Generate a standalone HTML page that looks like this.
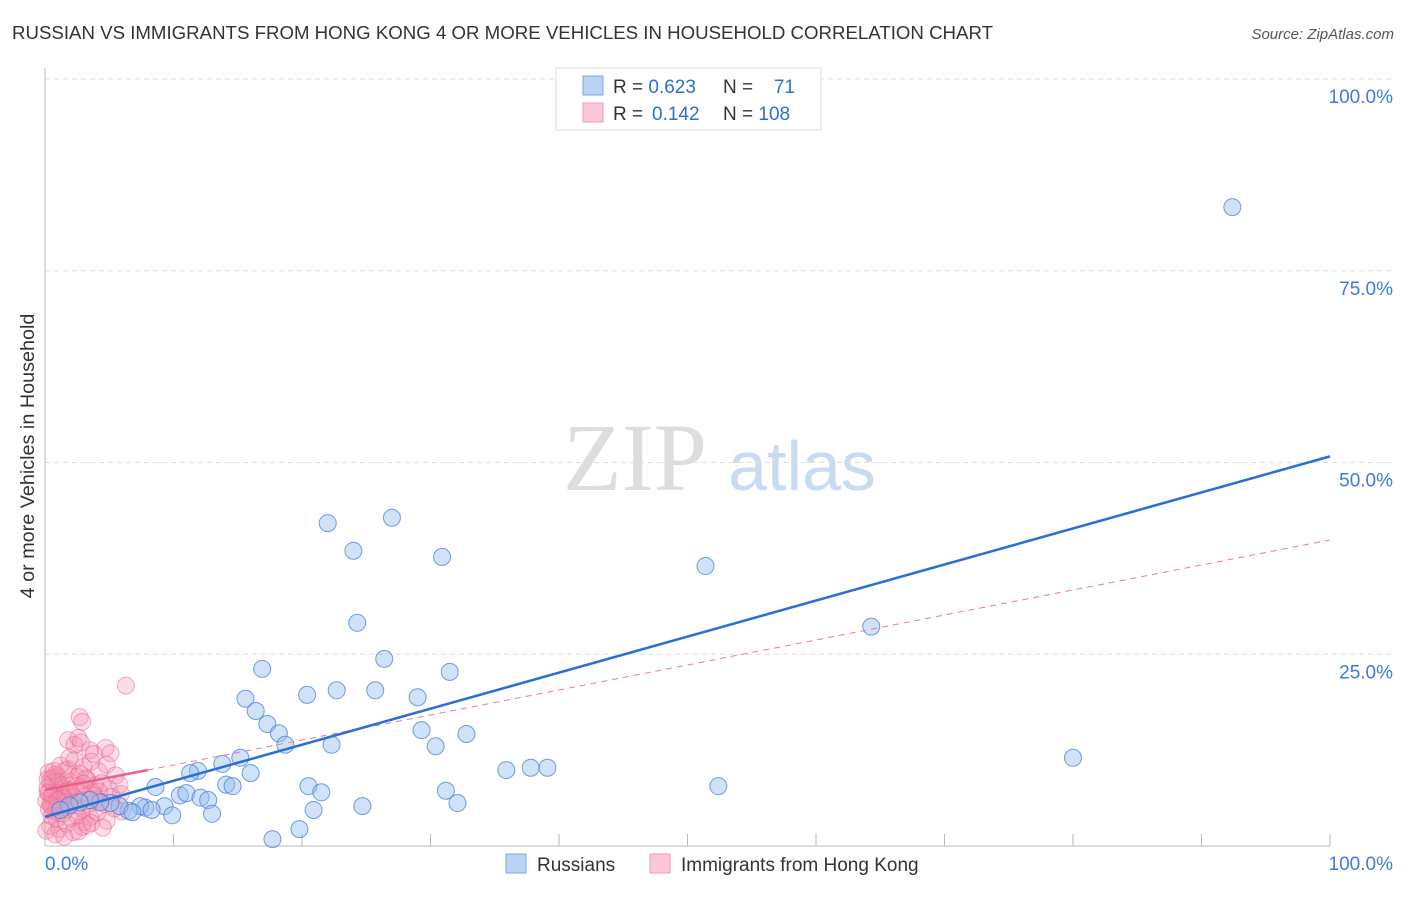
<!DOCTYPE html>
<html><head><meta charset="utf-8"><style>
body{margin:0;background:#fff;width:1406px;height:892px;overflow:hidden;font-family:"Liberation Sans",sans-serif}
</style></head><body>
<svg id="chart" width="1406" height="892" xmlns="http://www.w3.org/2000/svg" font-family="Liberation Sans, sans-serif">
<text x="12" y="39" font-size="18.6" fill="#333" textLength="981" lengthAdjust="spacingAndGlyphs">RUSSIAN VS IMMIGRANTS FROM HONG KONG 4 OR MORE VEHICLES IN HOUSEHOLD CORRELATION CHART</text>
<text x="1394" y="39" font-size="15" fill="#555" text-anchor="end" font-style="italic">Source: ZipAtlas.com</text>
<g>
<text x="635" y="490" font-size="96" fill="#ddd" font-family="Liberation Serif, serif" text-anchor="middle">ZIP</text>
<text x="802" y="490" font-size="70" fill="#c9dbf3" text-anchor="middle">atlas</text>
</g>
<g id="grid"></g>
<g id="axes"></g>
<g id="marks"></g>
<text transform="translate(34,456) rotate(-90)" font-size="19.8" fill="#333" text-anchor="middle">4 or more Vehicles in Household</text>
<g>
<rect x="556" y="68" width="265" height="62" fill="#fff" stroke="#ddd"/>
<rect x="583" y="76" width="20" height="19" fill="#b9d3f5" stroke="#7aa6e0"/>
<rect x="583" y="103" width="20" height="19" fill="#fbc6d6" stroke="#f09ab5"/>
<text x="613" y="93" font-size="19" fill="#333">R = <tspan fill="#2c6fd1">0.623</tspan></text>
<text x="723" y="93" font-size="19" fill="#333">N =</text>
<text x="795" y="93" font-size="19" fill="#2c6fd1" text-anchor="end">71</text>
<text x="613" y="120" font-size="19" fill="#333">R = </text>
<text x="652" y="120" font-size="19" fill="#2c6fd1">0.142</text>
<text x="723" y="120" font-size="19" fill="#333">N = <tspan fill="#2c6fd1">108</tspan></text>
</g>
<g>
<rect x="506" y="854" width="20" height="19" fill="#b9d3f5" stroke="#7aa6e0"/>
<text x="537" y="871" font-size="19" fill="#333">Russians</text>
<rect x="650" y="854" width="20" height="19" fill="#fbc6d6" stroke="#f09ab5"/>
<text x="681" y="871" font-size="19" fill="#333">Immigrants from Hong Kong</text>
</g>
</svg>
<script>
const yTicks=[100,75,50,25];
const yTickLabels=["100.0%","75.0%","50.0%","25.0%"];
const xTicks=[10,20,30,40,50,60,70,80,90,100];
const russiansX=[92.4,22.0,27.0,24.0,30.9,51.4,24.3,64.3,16.9,26.4,31.5,15.6,20.4,22.7,25.7,29.0,16.4,17.3,18.2,18.7,22.3,29.3,30.4,32.8,80.0,15.2,13.8,11.9,11.3,16.0,14.1,14.6,20.5,21.5,35.9,37.8,39.1,52.4,31.2,32.1,24.7,20.9,17.7,19.8,8.6,10.5,11.0,12.1,12.7,13.0,9.3,9.9,7.8,7.4,6.5,5.8,5.1,4.3,3.5,2.7,1.9,1.2,6.8,8.3];
const russiansY=[83.3,42.1,42.8,38.5,37.7,36.5,29.1,28.6,23.1,24.4,22.7,19.2,19.7,20.3,20.3,19.4,17.6,15.9,14.7,13.2,13.2,15.1,13.0,14.6,11.5,11.5,10.7,9.8,9.5,9.5,8.0,7.8,7.8,7.0,9.9,10.2,10.2,7.8,7.2,5.6,5.2,4.7,0.9,2.2,7.7,6.6,6.9,6.3,6.0,4.2,5.2,4.0,5.0,5.2,4.6,5.2,5.6,5.7,6.0,5.7,5.3,4.7,4.4,4.7];
const hkX=[6.3,2.7,2.9,1.8,2.3,2.6,4.7,5.1,3.5,1.6,0.8,0.4,1.2,1.9,0.3,0.6,1.0,1.4,2.0,2.5,3.0,3.6,4.2,4.8,5.5,0.2,0.5,0.9,1.3,1.7,2.2,2.8,3.3,3.9,4.4,5.0,5.9,0.1,0.4,0.7,1.1,1.5,2.1,2.6,3.1,3.7,4.3,0.3,0.8,1.2,1.6,2.4,2.9,3.4,4.0,4.6,5.2,0.2,0.6,1.0,1.8,2.3,2.7,3.2,3.8,0.5,0.9,1.4,2.0,2.5,3.0,3.5,4.1,4.8,5.4,0.4,1.1,1.7,2.2,2.9,3.6,4.5,0.1,0.8,1.5,2.6,3.3,0.6,1.3,2.0,0.2,0.7,1.2,1.9,2.8,5.8,4.2,3.8,0.9,1.6,0.3,2.4,3.0,1.0,0.5,6.0];
const hkY=[20.9,16.8,16.2,13.8,13.2,14.1,12.8,12.1,12.5,9.9,9.3,8.6,8.0,7.3,9.6,8.9,8.2,7.5,8.4,9.0,10.3,11.0,9.7,10.6,9.2,7.0,6.6,6.1,6.8,7.1,6.4,7.7,8.6,7.9,8.2,7.4,6.8,5.9,5.5,5.2,5.8,6.2,5.6,6.0,6.5,7.0,5.8,4.8,4.5,5.0,4.7,5.3,4.9,5.4,6.1,5.5,6.4,7.6,8.3,9.1,10.0,11.2,9.4,8.8,12.0,3.9,3.5,4.2,3.6,4.0,3.1,3.8,4.4,3.3,4.9,2.6,2.2,2.9,1.8,2.5,3.0,2.4,2.0,1.5,1.2,1.9,2.7,6.7,6.3,7.2,8.7,9.8,10.5,11.5,13.5,8.0,7.1,6.6,5.1,5.7,6.9,7.8,8.1,6.0,5.3,4.5];
const russiansTrend=[3.8,50.8];
const hkTrend=[7.3,39.9];
const hkSolidEnd=8;
const X0=45,X1=1330,Y0=846,Y1=79;
const sx=v=>X0+(X1-X0)*v/100;
const sy=v=>Y0-(Y0-Y1)*v/100;
const NS="http://www.w3.org/2000/svg";
function mk(tag,attrs,parent){const e=document.createElementNS(NS,tag);for(const k in attrs)e.setAttribute(k,attrs[k]);parent.appendChild(e);return e;}
const grid=document.getElementById('grid'),axes=document.getElementById('axes'),marks=document.getElementById('marks');
yTicks.forEach((t,i)=>{
 const l=mk('line',{x1:X0,x2:1394,y1:sy(t),y2:sy(t),stroke:'#ddd','stroke-dasharray':'5,4'},grid);
 
 
 const tx=mk('text',{x:1393,y:sy(t)+24,'font-size':19,fill:'#3b7ddd','text-anchor':'end'},axes);
 tx.textContent=yTickLabels[i];
 
 
});
const ya=mk('line',{x1:X0,x2:X0,y1:68,y2:Y0,stroke:'#bbb'},axes);


const xa=mk('line',{x1:X0,x2:X1,y1:Y0,y2:Y0,stroke:'#bbb'},axes);


xTicks.forEach(t=>{
 const l=mk('line',{x1:sx(t),x2:sx(t),y1:Y0-12,y2:Y0,stroke:'#bbb'},axes);
 
 
});
const xl0=mk('text',{x:45,y:870,'font-size':19,fill:'#3b7ddd'},axes);xl0.textContent='0.0%';


const xl1=mk('text',{x:1393,y:870,'font-size':19,fill:'#3b7ddd','text-anchor':'end'},axes);xl1.textContent='100.0%';


hkX.forEach((x,i)=>{
 const c=mk('circle',{cx:sx(x),cy:sy(hkY[i]),r:8.5,fill:'rgba(244,143,177,0.3)',stroke:'rgba(232,100,140,0.5)','stroke-width':1},marks);
 
 
});
russiansX.forEach((x,i)=>{
 const c=mk('circle',{cx:sx(x),cy:sy(russiansY[i]),r:8.5,fill:'rgba(150,190,240,0.45)',stroke:'rgba(60,120,210,0.7)','stroke-width':1},marks);
 
 
});
const ht=v=>hkTrend[0]+(hkTrend[1]-hkTrend[0])*v/100;
const hd=mk('line',{x1:sx(hkSolidEnd),y1:sy(ht(hkSolidEnd)),x2:sx(100),y2:sy(ht(100)),stroke:'#e87a9c','stroke-width':1,'stroke-dasharray':'6,5'},marks);


const hs=mk('line',{x1:sx(0),y1:sy(ht(0)),x2:sx(hkSolidEnd),y2:sy(ht(hkSolidEnd)),stroke:'#e8608c','stroke-width':2.5},marks);


const rt=mk('line',{x1:sx(0),y1:sy(russiansTrend[0]),x2:sx(100),y2:sy(russiansTrend[1]),stroke:'#2a6fd6','stroke-width':2.5},marks);


</script>
</body></html>
